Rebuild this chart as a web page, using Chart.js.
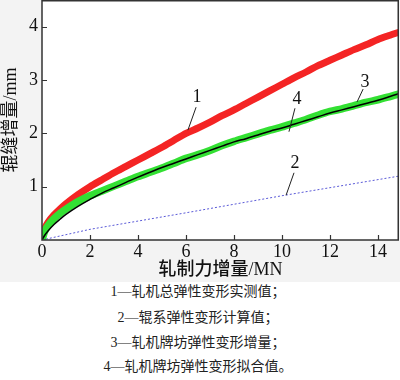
<!DOCTYPE html>
<html>
<head>
<meta charset="utf-8">
<script src="https://cdn.jsdelivr.net/npm/chart.js@4"></script>
<style>
  html, body { margin: 0; padding: 0; background: #ffffff; }
  #wrap { position: relative; width: 400px; height: 380px; overflow: hidden; }
  #box { position: absolute; left: 0; top: 0; width: 400px; height: 282px; background: #f3f3f3; }
  .cap { position: absolute; left: 0; width: 396px; text-align: center; font-family: "Liberation Serif", "Noto Sans CJK SC", serif; font-size: 14px; color: #222; line-height: 16px; white-space: nowrap; }
</style>
</head>
<body>
<div id="wrap">
  <div id="box"><canvas id="c" width="400" height="282"></canvas></div>
  <div class="cap" style="top:284px">1—轧机总弹性变形实测值；</div>
  <div class="cap" style="top:310px">2—辊系弹性变形计算值；</div>
  <div class="cap" style="top:335px">3—轧机牌坊弹性变形增量；</div>
  <div class="cap" style="top:359px">4—轧机牌坊弹性变形拟合值。</div>
</div>
<script>
// Rolling force increment (MN)
const forceX = [0, 0.1, 0.25, 0.5, 0.75, 1, 1.5, 2, 2.5, 3, 3.5, 4, 4.5, 5, 5.5, 6, 6.5, 7, 7.5, 8, 8.5, 9, 9.5, 10, 10.5, 11, 11.5, 12, 12.5, 13, 13.5, 14, 14.5, 14.9];
// 1 — total mill elastic deformation, measured (mm)
const totalMeasured = [0, 0.2, 0.33, 0.47, 0.58, 0.68, 0.85, 1.0, 1.13, 1.26, 1.38, 1.5, 1.62, 1.74, 1.87, 2.0, 2.1, 2.21, 2.33, 2.44, 2.56, 2.68, 2.8, 2.92, 3.04, 3.15, 3.27, 3.37, 3.47, 3.57, 3.66, 3.76, 3.84, 3.9];
// 3 — housing elastic deformation increment (mm)
const housingIncrement = [0, 0.15, 0.27, 0.4, 0.5, 0.58, 0.72, 0.83, 0.92, 1.01, 1.1, 1.19, 1.27, 1.35, 1.44, 1.53, 1.6, 1.68, 1.77, 1.85, 1.92, 1.99, 2.06, 2.12, 2.19, 2.26, 2.34, 2.41, 2.46, 2.52, 2.58, 2.63, 2.69, 2.74];
// 4 — housing elastic deformation, fitted (mm)
const housingFit = [0, 0.08, 0.17, 0.29, 0.39, 0.48, 0.63, 0.76, 0.88, 0.98, 1.08, 1.18, 1.27, 1.36, 1.44, 1.52, 1.6, 1.68, 1.76, 1.84, 1.9, 1.97, 2.04, 2.1, 2.17, 2.24, 2.31, 2.38, 2.44, 2.5, 2.56, 2.62, 2.69, 2.75];
// 2 — roll system elastic deformation, calculated (mm)
const rollX = [0, 2, 6, 10, 14.9];
const rollCalc = [0, 0.2, 0.51, 0.83, 1.2];
// tick labels
const xTicks = [0, 2, 4, 6, 8, 10, 12, 14];
const yTicks = [1, 2, 3, 4];
const xTitle = '轧制力增量/MN';
const yTitle = '辊缝增量/mm';

const pts = (xs, ys) => xs.map((x, i) => ({ x: x, y: ys[i] }));

const serif = '"Liberation Serif", "Noto Sans CJK SC", serif';

const frame = {
  id: 'frame',
  beforeDraw(chart) {
    const { ctx, chartArea: a } = chart;
    ctx.save();
    ctx.fillStyle = '#ffffff';
    ctx.fillRect(a.left, a.top, a.right - a.left, a.bottom - a.top);
    ctx.restore();
  },
  afterDraw(chart) {
    const { ctx, chartArea: a, scales } = chart;
    const sx = scales.x, sy = scales.y;
    ctx.save();
    ctx.strokeStyle = '#333';
    ctx.lineWidth = 1.5;
    ctx.strokeRect(a.left, a.top + 0.75, a.right - a.left - 0.75, a.bottom - a.top - 0.75);
    ctx.lineWidth = 1.2;
    ctx.beginPath();
    xTicks.forEach(v => { if (v > 0) { const p = Math.round(sx.getPixelForValue(v)) + 0.5; ctx.moveTo(p, a.bottom); ctx.lineTo(p, a.bottom - 5); } });
    yTicks.forEach(v => { const p = Math.round(sy.getPixelForValue(v)) + 0.5; ctx.moveTo(a.left, p); ctx.lineTo(a.left + 5, p); });
    ctx.stroke();
    // curve labels with leader lines (data units)
    const notes = [
      ['1', 6.46, 2.68, 6.42, 2.49, 6.08, 2.06],
      ['4', 10.63, 2.63, 10.54, 2.47, 10.29, 2.03],
      ['3', 13.46, 2.96, 13.38, 2.83, 13.13, 2.59],
      ['2', 10.54, 1.44, 10.5, 1.26, 10.17, 0.84]
    ];
    ctx.fillStyle = '#111';
    ctx.font = '18px ' + serif;
    ctx.textAlign = 'center';
    ctx.textBaseline = 'middle';
    ctx.lineWidth = 1;
    ctx.strokeStyle = '#222';
    notes.forEach(n => {
      ctx.fillText(n[0], sx.getPixelForValue(n[1]), sy.getPixelForValue(n[2]));
      ctx.beginPath();
      ctx.moveTo(sx.getPixelForValue(n[3]), sy.getPixelForValue(n[4]));
      ctx.lineTo(sx.getPixelForValue(n[5]), sy.getPixelForValue(n[6]));
      ctx.stroke();
    });
    ctx.restore();
  }
};

new Chart(document.getElementById('c'), {
  type: 'line',
  data: {
    datasets: [
      { label: '2', data: pts(rollX, rollCalc), borderColor: '#5a5ad8', borderWidth: 1, borderDash: [2, 2], pointRadius: 0, tension: 0, order: 4 },
      { label: '1', data: pts(forceX, totalMeasured), borderColor: '#f42424', borderWidth: 7, pointRadius: 0, tension: 0.3, order: 3 },
      { label: '3', data: pts(forceX, housingIncrement), borderColor: '#33e033', borderWidth: 7.5, pointRadius: 0, tension: 0.3, order: 2 },
      { label: '4', data: pts(forceX, housingFit), borderColor: '#000000', borderWidth: 1.5, pointRadius: 0, tension: 0.4, order: 1 }
    ]
  },
  options: {
    responsive: false,
    animation: false,
    events: [],
    layout: { padding: { top: 0, right: 1, left: 0, bottom: 0 } },
    plugins: { legend: { display: false }, tooltip: { enabled: false } },
    scales: {
      x: {
        type: 'linear', min: 0, max: 14.875,
        afterFit(s) { s.height = 42; s.paddingLeft = 0; s.paddingRight = 0; },
        afterBuildTicks(s) { s.ticks = xTicks.map(v => ({ value: v })); },
        grid: { display: false, drawTicks: false },
        border: { display: false },
        ticks: { color: '#111', font: { family: serif, size: 18 }, padding: 1, maxRotation: 0, autoSkip: false },
        title: { display: true, text: xTitle, color: '#111', font: { family: serif, size: 18, weight: '500' }, padding: { top: 0, bottom: 1 } }
      },
      y: {
        type: 'linear', min: 0, max: 4.5,
        afterFit(s) { s.width = 42; s.paddingTop = 0; s.paddingBottom = 0; },
        afterBuildTicks(s) { s.ticks = yTicks.map(v => ({ value: v })); },
        grid: { display: false, drawTicks: false },
        border: { display: false },
        ticks: { color: '#111', font: { family: serif, size: 18 }, padding: 4, autoSkip: false },
        title: { display: true, text: yTitle, color: '#111', font: { family: serif, size: 18, weight: 'normal' }, padding: { top: 0, bottom: 0 } }
      }
    }
  },
  plugins: [frame]
});
</script>
</body>
</html>
